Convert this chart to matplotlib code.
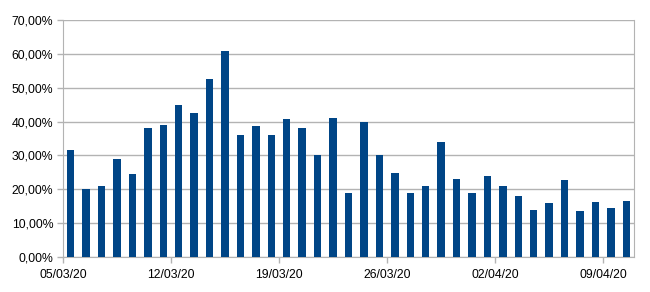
import matplotlib
matplotlib.use("Agg")
import matplotlib.pyplot as plt
import numpy as np

dates = ["05/03/20", "12/03/20", "19/03/20", "26/03/20", "02/04/20", "09/04/20"]
values = [31.7, 20.1, 20.9, 28.8, 24.5, 38.1, 39.0, 44.9, 42.4, 52.6, 60.9,
          36.0, 38.6, 36.0, 40.7, 38.1, 30.0, 41.0, 19.0, 39.9, 30.0, 24.9,
          19.0, 21.0, 33.9, 23.0, 19.0, 24.0, 21.0, 18.0, 14.0, 15.9, 22.6,
          13.7, 16.1, 14.5, 16.6]
yticks = [0, 10, 20, 30, 40, 50, 60, 70]

plt.rcParams['font.family'] = ['Liberation Sans', 'DejaVu Sans']
fig = plt.figure(figsize=(6.5, 2.92), dpi=100)
ax = fig.add_axes([63/650, 35/292, (634-63)/650, (257-20)/292])

x = np.arange(len(values)) + 0.5
ax.bar(x, values, width=0.48, color='#004586', zorder=3)

ax.set_xlim(0, len(values))
ax.set_ylim(0, 70)
ax.set_yticks(yticks)
ax.set_yticklabels([f"{v:.2f}".replace('.', ',') + "%" for v in yticks], fontsize=8.8)
ax.set_xticks([0, 7, 14, 21, 28, 35])
ax.set_xticklabels(dates, fontsize=8.8)
ax.grid(axis='y', color='#b3b3b3', linewidth=1, zorder=0)
for s in ['left', 'bottom', 'right', 'top']:
    ax.spines[s].set_color('#b3b3b3')
ax.spines['top'].set_visible(False)
ax.tick_params(axis='y', color='#b3b3b3', length=4.5, width=1, labelcolor='#000000', pad=2.5)
ax.tick_params(axis='x', color='#b3b3b3', length=4, width=1, labelcolor='#000000', pad=5)

fig.savefig("out.png", dpi=100)
